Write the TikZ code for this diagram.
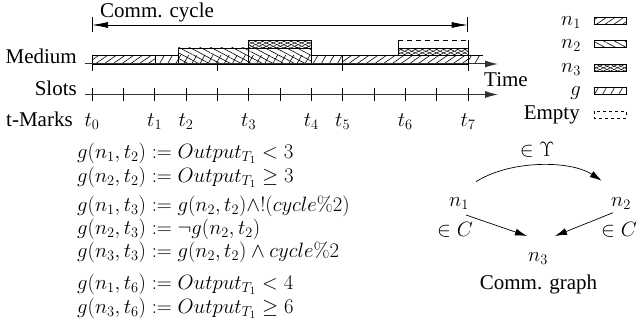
\documentclass[tikz,border=0pt]{standalone}
\usepackage[no-math]{fontspec}
\setmainfont{Liberation Serif}
\usetikzlibrary{arrows.meta,patterns.meta,calc}
\begin{document}
\begin{tikzpicture}[x=1pt,y=-1pt,
  font=\fontsize{21}{25}\selectfont,
  pn1/.style={pattern={Lines[angle=35,distance=5pt,line width=0.6pt]}},
  pg/.style={pattern={Lines[angle=60,distance=7pt,line width=0.6pt]}},
  pn2/.style={pattern={Lines[angle=-28,distance=5pt,line width=0.6pt]}},
  pn3a/.style={pattern={Lines[angle=25,distance=3pt,line width=0.5pt]}},
  pn3b/.style={pattern={Lines[angle=-25,distance=3pt,line width=0.5pt]}},
  blk/.style={draw,line width=0.7pt},
  axis/.style={line width=1pt,-{Latex[length=13pt,width=7pt]}},
  tick/.style={line width=0.7pt},
  rlbl/.style={anchor=base east,inner sep=0pt},
  llbl/.style={anchor=base west,inner sep=0pt},
  clbl/.style={anchor=base,inner sep=0pt},
  garr/.style={line width=0.7pt,-{Latex[length=12pt,width=7pt]}},
  swatch/.style={draw,line width=0.6pt}
]
\useasboundingbox (0,0) rectangle (636,326);

% ---- communication cycle
\node[llbl] (cc) at (100,17.5) {Comm. cycle};
\coordinate (c0) at (92,25);
\coordinate (c7) at (467.7,25);
\draw[tick] (92,17) -- (92,32);
\draw[tick] (467.7,17) -- (467.7,32);
\draw[line width=0.7pt,{Latex[length=16pt,width=6pt]}-{Latex[length=16pt,width=6pt]}] (c0) -- (c7);

% ---- medium
\node[rlbl] (med) at (77,63.3) {Medium};
\draw[blk,pn1] (92,55.5) rectangle (155,64);
\draw[blk,pg] (155,55.5) rectangle (178,64);
\fill[pg] (178,55.5) rectangle (311.7,64);
\draw[blk,pn2] (178,48) rectangle (248.7,64);
\draw[blk,pn2] (248.7,48) rectangle (311.7,64);
\fill[pn3b] (248.7,40.7) rectangle (311.7,48);
\draw[blk,pn3a] (248.7,40.7) rectangle (311.7,48);
\draw[blk,pg] (311.7,55.5) rectangle (342.7,64);
\draw[blk,pn1] (342.7,55.5) rectangle (468,64);
\fill[pn3b] (398,48.7) rectangle (468,55.5);
\draw[blk,pn3a] (398,48.7) rectangle (468,55.5);
\fill[pg] (468,55.5) rectangle (483,64);
\draw[blk] (468,55.5) -- (483,55.5);
\draw[blk,dashed,dash pattern=on 5pt off 4pt] (398,40.5) -- (468,40.5);
\draw[blk] (398,40.5) -- (398,48.7);
\draw[black!80,axis] (85,64) -- (498,64);
\draw[tick] (92,64) -- (92,71);
\draw[tick] (217.3,64) -- (217.3,71);
\draw[tick] (342.7,55.5) -- (342.7,71);
\draw[tick] (468,40.5) -- (468,71);
\node[llbl] (time) at (484,87) {Time};

% ---- slots
\node[rlbl] (slots) at (77,95.5) {Slots};
\draw[black!80,axis] (85,94.5) -- (498,94.5);
\foreach \i in {0,...,12} {
  \draw[tick] ({92+31.333*\i},88) -- ({92+31.333*\i},101);
}

% ---- t-marks
\node[llbl] (tm) at (6,126) {t-Marks};
\foreach \i/\k in {0/0,1/2,2/3,3/5,4/7,5/8,6/10,7/12} {
  \node[clbl] (t\i) at ({92+31.333*\k},126) {$t_{\i}$};
}

% ---- legend
\foreach \c/\lab/\p in {20.8/$n_1$/pn1,44.3/$n_2$/pn2,91.3/$g$/pg} {
  \node[rlbl] at (581,\c+4.3) {\lab};
  \draw[swatch,\p] (594,\c-3.5) rectangle (626,\c+3.5);
}
\node[rlbl] (ln3) at (581,72.1) {$n_3$};
\fill[pn3b] (594,64.3) rectangle (626,71.3);
\draw[swatch,pn3a] (594,64.3) rectangle (626,71.3);
\node[rlbl] (lempty) at (580,119) {Empty};
\draw[swatch,dash pattern=on 3pt off 3pt] (594,111.3) rectangle (626,118.3);

% ---- formulas
\node[llbl] (f1) at (77,158) {$g(n_1,t_2) := Output_{T_1} < 3$};
\node[llbl] (f2) at (77,182) {$g(n_2,t_2) := Output_{T_1} \geq 3$};
\node[llbl] (f3) at (77,211.5) {$g(n_1,t_3) := g(n_2,t_2)\land!(cycle\%2)$};
\node[llbl] (f4) at (77,234.5) {$g(n_2,t_3) := \neg g(n_2,t_2)$};
\node[llbl] (f5) at (77,257.5) {$g(n_3,t_3) := g(n_2,t_2) \land cycle\%2$};
\node[llbl] (f6) at (77,289) {$g(n_1,t_6) := Output_{T_1} < 4$};
\node[llbl] (f7) at (77,313) {$g(n_3,t_6) := Output_{T_1} \geq 6$};

% ---- communication graph
\node[clbl] (n1) at (459,206) {$n_1$};
\node[clbl] (n2) at (621,206) {$n_2$};
\node[clbl] (n3) at (538,261) {$n_3$};
\node[clbl] (e1) at (455,236) {$\in C$};
\node[clbl] (e2) at (619,236) {$\in C$};
\node[clbl] (eu) at (537,156.5) {$\in \Upsilon$};
\node[clbl] (cg) at (538.5,289.5) {Comm. graph};
\draw[garr] ($(n1.base)+(17,-24.3)$) .. controls (510,160) and (570,160) .. ($(n2.base)+(-19.3,-25.3)$);
\draw[garr] ($(n1.base)+(7,9)$) -- ($(n3.base)+(-11,-25)$);
\draw[garr] ($(n2.base)+(-8,6.7)$) -- ($(n3.base)+(17,-25)$);
\end{tikzpicture}
\end{document}
